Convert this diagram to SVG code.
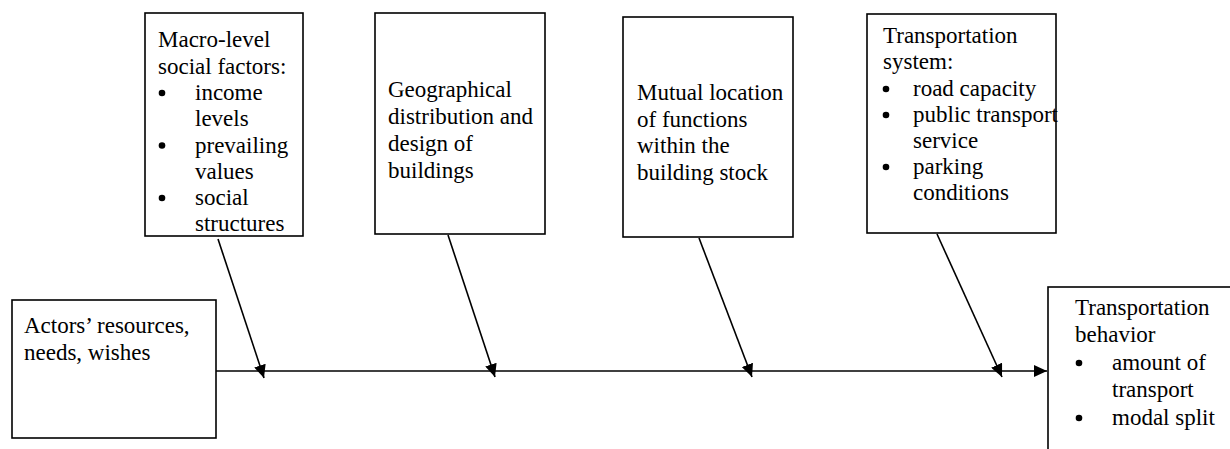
<svg xmlns="http://www.w3.org/2000/svg" width="1230" height="449" viewBox="0 0 1230 449">
<style>
.box{fill:#fff;stroke:#000;stroke-width:1.6}
text{font-family:"Liberation Serif","Times New Roman",serif;font-size:23px;fill:#000}
.dot{fill:#000}
.conn{stroke:#000;stroke-width:1.6;fill:none}
</style>
<defs>
<marker id="ah" markerUnits="userSpaceOnUse" markerWidth="14" markerHeight="12" refX="13" refY="6" orient="auto">
<path d="M0,0 L13,6 L0,12 z" fill="#000"/>
</marker>
</defs>
<rect width="1230" height="449" fill="#fff"/>
<g id="connectors">
<line class="conn" x1="216" y1="371" x2="1047" y2="371" marker-end="url(#ah)"/>
<line class="conn" x1="218" y1="239" x2="264" y2="378" marker-end="url(#ah)"/>
<line class="conn" x1="448" y1="235" x2="495" y2="377" marker-end="url(#ah)"/>
<line class="conn" x1="699" y1="238" x2="752" y2="377" marker-end="url(#ah)"/>
<line class="conn" x1="937" y1="234" x2="1002" y2="377" marker-end="url(#ah)"/>
</g>
<g id="macro">
<rect class="box" x="145" y="13" width="158" height="223"/>
<text x="158" y="47">Macro-level</text>
<text x="158" y="73.5">social factors:</text>
<circle class="dot" cx="162" cy="93" r="3.3"/><text x="195" y="100">income</text>
<text x="195" y="126">levels</text>
<circle class="dot" cx="162" cy="145.5" r="3.3"/><text x="195" y="152.5">prevailing</text>
<text x="195" y="178.5">values</text>
<circle class="dot" cx="162" cy="198" r="3.3"/><text x="195" y="205">social</text>
<text x="195" y="231">structures</text>
</g>
<g id="geo">
<rect class="box" x="375" y="13" width="170" height="221"/>
<text x="388" y="97">Geographical</text>
<text x="388" y="124">distribution and</text>
<text x="388" y="151">design of</text>
<text x="388" y="178">buildings</text>
</g>
<g id="mutual">
<rect class="box" x="623" y="17" width="170" height="220"/>
<text x="637" y="100">Mutual location</text>
<text x="637" y="127">of functions</text>
<text x="637" y="153">within the</text>
<text x="637" y="180">building stock</text>
</g>
<g id="transport-system">
<rect class="box" x="867" y="14" width="189" height="219"/>
<text x="883" y="43">Transportation</text>
<text x="883" y="69">system:</text>
<circle class="dot" cx="886" cy="89" r="3.3"/><text x="913" y="96">road capacity</text>
<circle class="dot" cx="886" cy="115" r="3.3"/><text x="913" y="122">public transport</text>
<text x="913" y="148">service</text>
<circle class="dot" cx="886" cy="167" r="3.3"/><text x="913" y="174">parking</text>
<text x="913" y="200">conditions</text>
</g>
<g id="actors">
<rect class="box" x="12" y="300" width="204" height="138"/>
<text x="24" y="333">Actors’ resources,</text>
<text x="24" y="360">needs, wishes</text>
</g>
<g id="behavior">
<rect class="box" x="1048" y="287" width="250" height="200"/>
<text x="1075" y="315">Transportation</text>
<text x="1075" y="342">behavior</text>
<circle class="dot" cx="1079" cy="363" r="3.3"/><text x="1112" y="370">amount of</text>
<text x="1112" y="397">transport</text>
<circle class="dot" cx="1079" cy="418" r="3.3"/><text x="1112" y="425">modal split</text>
</g>
</svg>
